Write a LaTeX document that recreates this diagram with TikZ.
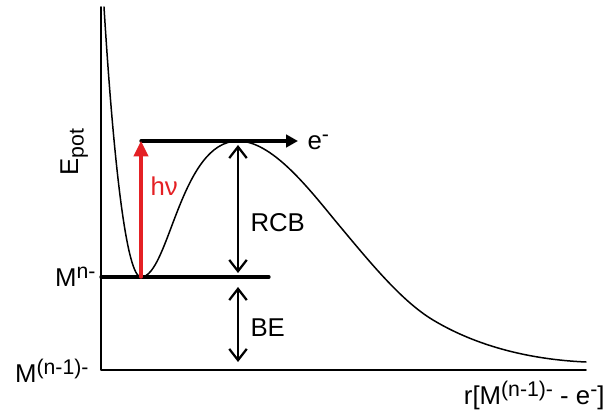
\documentclass[tikz,border=0pt]{standalone}
\usepackage{fontspec}
\setmainfont{Liberation Sans}
\usetikzlibrary{arrows.meta}
\definecolor{photon}{RGB}{228,32,36}
\newcommand\up[1]{\raisebox{3.3pt}{\fontsize{8.5}{10}\selectfont #1}}
\newcommand\dn[1]{\raisebox{-2.2pt}{\fontsize{8.5}{10}\selectfont #1}}
\begin{document}
\begin{tikzpicture}[x=0.4pt,y=-0.4pt,every node/.style={font=\fontsize{10.3}{12}\selectfont,inner sep=0pt},line join=round,line cap=round,
	level/.style={line width=1.3pt},
	gap/.style={line width=0.9pt,{Straight Barb[length=4.5pt,width=7pt]}-{Straight Barb[length=4.5pt,width=7pt]}}]
	\useasboundingbox (0,0) rectangle (613,412);
	\path
	(101,7) coordinate (Ytop)
	(101,370) coordinate (O)
	(586,370) coordinate (Xend)
	(141,277) coordinate (Min)
	(238,141) coordinate (Max)
	(269,277) coordinate (Lend)
	(298,141) coordinate (Free);
	% axes and potential curve
	\draw[line width=0.6pt] (Ytop) -- (O) -- (Xend);
	\draw[line width=0.6pt] (104,7) .. controls (114,170) and (127,277) .. (Min)
		.. controls (169,277) and (180,141) .. (Max)
		.. controls (275,141) and (315,197) .. (343,230)
		.. controls (373,266) and (403,302) .. (433,320)
		.. controls (483,350) and (540,360) .. (586,362);
	\draw[level] (O |- Min) -- (Lend);
	\draw[level,-{Triangle[length=4.8pt,width=5pt]}] (Min |- Max) -- (Free);
	\draw[photon,line width=1.3pt,-{Triangle[length=6.2pt,width=5.8pt]}] (Min) -- (Min |- Max);
	\draw[gap] (238,145) -- (238,273);
	\draw[gap] (238,287) -- (238,362);
	% labels
	\node[rotate=90,anchor=base] (Epot) at (78,152) {E\dn{pot}};
	\node[anchor=base east] (Mn) at (96,287) {M\up{n-}};
	\node[anchor=base east] (Mn1) at (89,383) {M\up{(n-1)-}};
	\node[anchor=base west] (el) at (307,150) {e\up{-}};
	\node[anchor=base west,photon] (hnu) at (150,196) {hν};
	\node[anchor=base west] (RCB) at (250,232) {RCB};
	\node[anchor=base west] (BE) at (250,337) {BE};
	\node[anchor=base east] (rlab) at (605,405) {r[M\up{(n-1)-} - e\up{-}]};
\end{tikzpicture}
\end{document}
